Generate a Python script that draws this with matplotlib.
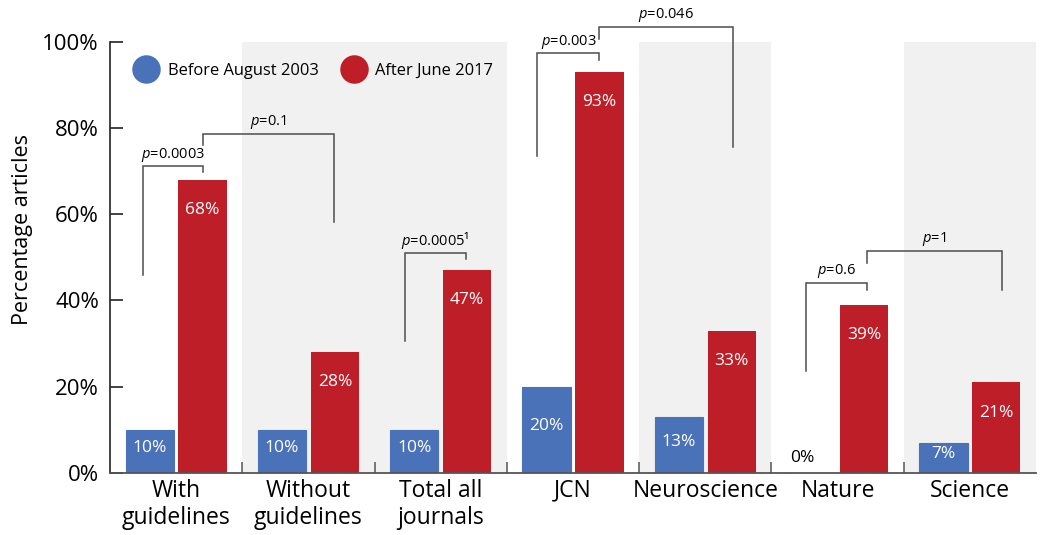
import matplotlib
matplotlib.use("Agg")
import matplotlib.pyplot as plt
import numpy as np

plt.rcParams['font.family'] = ['Open Sans', 'DejaVu Sans']
plt.rcParams['mathtext.fontset'] = 'custom'
plt.rcParams['mathtext.it'] = 'Open Sans:italic'
plt.rcParams['mathtext.rm'] = 'Open Sans'

# data
groups = ["With\nguidelines", "Without\nguidelines", "Total all\njournals",
          "JCN", "Neuroscience", "Nature", "Science"]
before = [10, 10, 10, 20, 13, 0, 7]
after = [68, 28, 47, 93, 33, 39, 21]
series_names = ["Before August 2003", "After June 2017"]

# brackets: (left x, left bottom, right x, right bottom, top, label)
brackets = [
    (0.25, 46.0, 0.70, 69.7, 71.1, "$p$=0.0003"),
    (0.70, 76.0, 1.69, 58.1, 78.6, "$p$=0.1"),
    (2.23, 30.7, 2.69, 49.7, 50.9, "$p$=0.0005\u00b9"),
    (3.23, 73.5, 3.70, 95.7, 97.3, "$p$=0.003"),
    (3.70, 100.7, 4.71, 75.7, 103.4, "$p$=0.046"),
    (5.26, 23.7, 5.72, 42.5, 44.1, "$p$=0.6"),
    (5.72, 48.8, 6.745, 42.5, 51.5, "$p$=1"),
]

blue = "#4a72b8"
red = "#be1e27"

fig = plt.figure(figsize=(10.44, 5.35), dpi=100)
ax = fig.add_axes([0.1054, 0.1159, 0.8869, 0.8061])

centers = np.arange(len(groups)) + 0.5
w = 0.365

for a, b in [(1, 3), (4, 5), (6, 7)]:
    ax.axvspan(a, b, color="#f1f1f1", zorder=0, lw=0)

ax.bar(centers - 0.2, before, w, color=blue, zorder=2,
       edgecolor=blue, linewidth=0.8, label=series_names[0])
ax.bar(centers + 0.2, after, w, color=red, zorder=2,
       lw=0, label=series_names[1])

for x, v in zip(centers, before):
    if v == 0:
        ax.text(x - 0.27, 3.5, f"{v}%", ha="center", va="center",
                fontsize=12.5, color="black", zorder=3)
    else:
        ax.text(x - 0.2, v / 2 + 0.8, f"{v}%", ha="center", va="center",
                fontsize=12.5, color="white", zorder=3)
for x, v in zip(centers, after):
    ax.text(x + 0.2, v - 7, f"{v}%", ha="center", va="center",
            fontsize=12.5, color="white", zorder=3)

for x0, y0, x1, y1, top, lab in brackets:
    ax.plot([x0, x0, x1, x1], [y0, top, top, y1], color="#4d4d4d",
            lw=1.1, clip_on=False, zorder=4, solid_joinstyle="miter")
    ax.text((x0 + x1) / 2, top + 0.6, lab, ha="center", va="bottom",
            fontsize=10.5, color="black", clip_on=False)

ax.set_xlim(0, 7)
ax.set_ylim(0, 100)
ax.set_yticks([0, 20, 40, 60, 80, 100])
ax.set_yticklabels([f"{t}%" for t in [0, 20, 40, 60, 80, 100]], fontsize=16)
ax.tick_params(axis="y", direction="in", length=9, width=1.2, pad=8, color="#222222")
ax.set_xticks(centers)
ax.set_xticklabels(groups, fontsize=16.5, linespacing=1.2)
ax.tick_params(axis="x", length=0, pad=4)
ax.set_xticks(np.arange(1, 7), minor=True)
ax.tick_params(axis="x", which="minor", direction="in", length=8, width=1.1, color="#555555")

for s in ["top", "right"]:
    ax.spines[s].set_visible(False)
ax.spines["left"].set_color("#222222")
ax.spines["left"].set_linewidth(1.2)
ax.spines["bottom"].set_color("#555555")
ax.spines["bottom"].set_linewidth(1.3)

ax.set_ylabel("Percentage articles", fontsize=15.5)
ax.yaxis.set_label_coords(-0.083, 0.565)

leg_handles = [plt.Line2D([], [], marker="o", ls="", markersize=19.5, color=blue),
               plt.Line2D([], [], marker="o", ls="", markersize=19.5, color=red)]
ax.legend(leg_handles, series_names, loc="upper left", ncol=2, frameon=False,
          bbox_to_anchor=(0.009, 0.985), fontsize=11.9, handletextpad=0.5,
          columnspacing=1.3, handlelength=1.6)

fig.savefig("out.png", dpi=100)
